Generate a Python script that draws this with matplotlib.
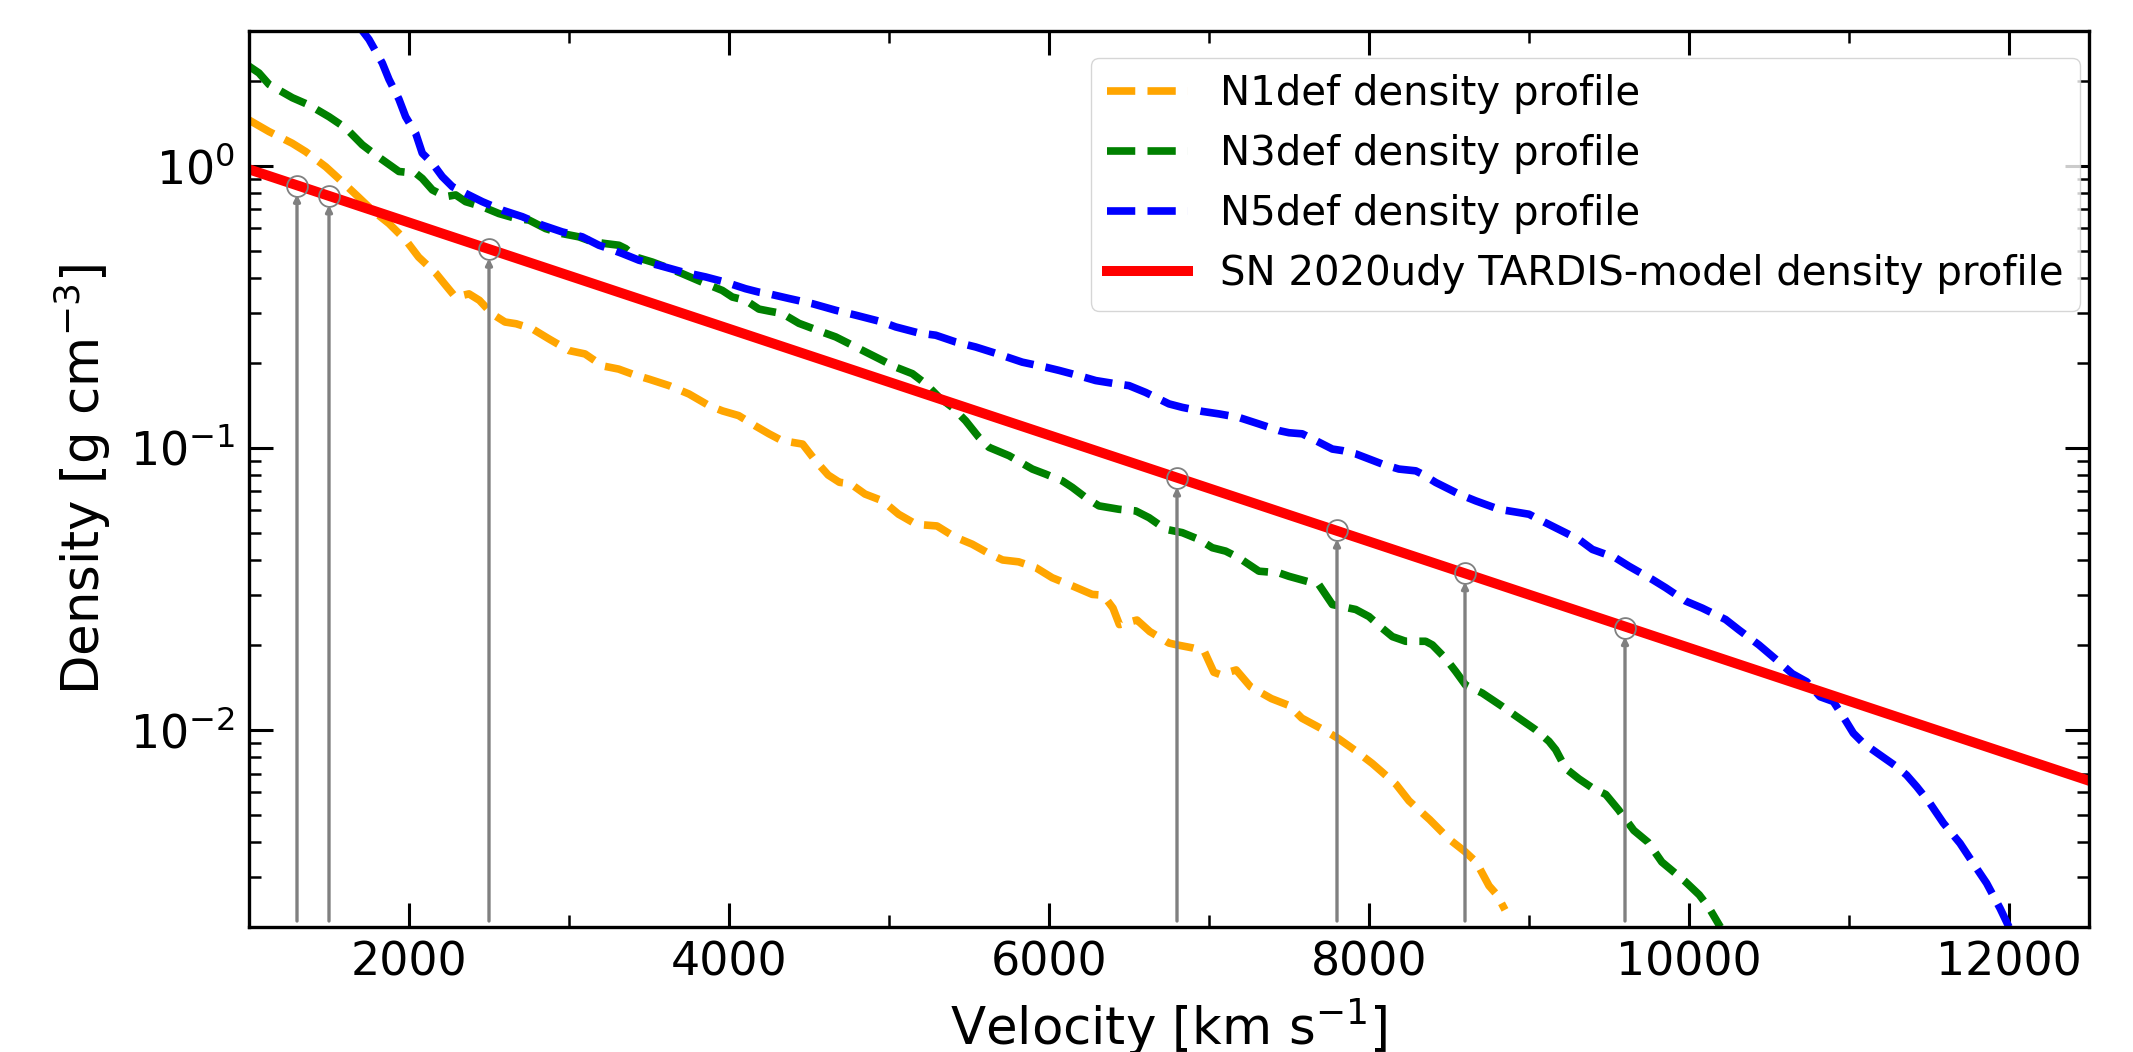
import matplotlib
matplotlib.use("Agg")
import matplotlib.pyplot as plt

# ---------------- data ----------------
n1_v = [1000, 1125, 1270, 1355, 1480, 1560, 1670, 1770, 1875, 1980, 2060, 2170, 2230, 2290,
        2375, 2440, 2520, 2600, 2670, 2770, 2875, 3000, 3100, 3210, 3310, 3400, 3500, 3625,
        3750, 3875, 3960, 4060, 4170, 4250, 4330, 4460, 4540, 4620, 4690, 4760, 4850, 4960,
        5060, 5170, 5300, 5410, 5520, 5630, 5710, 5810, 5920, 6020, 6150, 6270, 6340, 6400,
        6440, 6550, 6630, 6750, 6800, 6900, 6970, 7030, 7070, 7170, 7260, 7390, 7500, 7580,
        7730, 7810, 7920, 8020, 8080, 8170, 8250, 8380, 8500, 8600, 8670, 8750, 8800, 8850]
n1_rho = [1.45, 1.32, 1.20, 1.12, 0.99, 0.90, 0.787, 0.695, 0.623, 0.544, 0.474, 0.414, 0.376,
          0.342, 0.351, 0.333, 0.298, 0.279, 0.275, 0.264, 0.243, 0.221, 0.215, 0.195, 0.190,
          0.182, 0.175, 0.166, 0.155, 0.141, 0.135, 0.130, 0.119, 0.112, 0.106, 0.103, 0.090,
          0.080, 0.0754, 0.0745, 0.0685, 0.0648, 0.0581, 0.0535, 0.0528, 0.0483, 0.0455,
          0.0420, 0.0400, 0.0394, 0.0375, 0.0346, 0.0323, 0.0302, 0.0300, 0.0270, 0.0236,
          0.0245, 0.0223, 0.0203, 0.0200, 0.0195, 0.0190, 0.0160, 0.0157, 0.0163, 0.0142,
          0.0129, 0.0122, 0.0110, 0.0099, 0.0093, 0.0084, 0.0076, 0.0071, 0.0064, 0.0056,
          0.0048, 0.0041, 0.0037, 0.0034, 0.0028, 0.0026, 0.0023]

n3_v = [1000, 1062, 1125, 1271, 1375, 1500, 1604, 1708, 1792, 1896, 1937, 2042, 2083, 2146,
        2229, 2292, 2354, 2458, 2562, 2667, 2750, 2854, 2958, 3062, 3146, 3229, 3312, 3354,
        3417, 3521, 3604, 3708, 3833, 3958, 4021, 4104, 4187, 4250, 4333, 4437, 4583, 4667,
        4792, 4917, 5042, 5146, 5229, 5312, 5396, 5479, 5562, 5625, 5750, 5896, 5979, 6083,
        6146, 6229, 6312, 6437, 6542, 6625, 6729, 6833, 6937, 7021, 7104, 7187, 7312, 7437,
        7500, 7687, 7771, 7917, 8000, 8083, 8146, 8229, 8354, 8396, 8479, 8542, 8604, 8708,
        8833, 8937, 9042, 9125, 9167, 9229, 9312, 9400, 9480, 9560, 9655, 9743, 9830, 9976,
        10064, 10123, 10196]
n3_rho = [2.25, 2.13, 1.94, 1.74, 1.64, 1.49, 1.36, 1.185, 1.09, 0.99, 0.953, 0.94, 0.90,
          0.82, 0.776, 0.787, 0.745, 0.715, 0.676, 0.65, 0.641, 0.598, 0.574, 0.559, 0.537,
          0.529, 0.522, 0.508, 0.474, 0.455, 0.437, 0.414, 0.386, 0.361, 0.342, 0.333, 0.310,
          0.305, 0.299, 0.276, 0.257, 0.247, 0.2275, 0.2096, 0.193, 0.183, 0.1685, 0.151,
          0.139, 0.1246, 0.1088, 0.1003, 0.0937, 0.0840, 0.0806, 0.0763, 0.0723, 0.0666,
          0.0622, 0.0605, 0.0597, 0.0565, 0.0514, 0.0500, 0.0473, 0.0442, 0.0430, 0.0407,
          0.0365, 0.0360, 0.0350, 0.0327, 0.0278, 0.0267, 0.0252, 0.0229, 0.0214, 0.0206,
          0.0206, 0.0200, 0.0179, 0.0161, 0.0144, 0.0135, 0.0121, 0.0110, 0.0100, 0.0091,
          0.0085, 0.0073, 0.0067, 0.0062, 0.0059, 0.0052, 0.0044, 0.0040, 0.0034, 0.0029,
          0.0026, 0.00235, 0.0020]

n5_v = [1687, 1750, 1833, 1875, 1937, 1979, 2042, 2083, 2146, 2208, 2271, 2354, 2458, 2583,
        2708, 2833, 2958, 3083, 3187, 3250, 3333, 3437, 3562, 3708, 3854, 3979, 4104, 4187,
        4250, 4375, 4521, 4667, 4792, 4958, 5042, 5187, 5292, 5417, 5542, 5687, 5833, 5979,
        6062, 6187, 6292, 6417, 6500, 6604, 6750, 6833, 6958, 7062, 7187, 7312, 7437, 7500,
        7583, 7667, 7771, 7833, 7917, 8083, 8187, 8292, 8333, 8417, 8562, 8667, 8812, 8937,
        9000, 9062, 9167, 9312, 9396, 9541, 9625, 9771, 9854, 9979, 10083, 10229, 10312,
        10437, 10542, 10646, 10736, 10819, 10902, 10965, 11027, 11090, 11194, 11298, 11360,
        11423, 11506, 11590, 11694, 11777, 11860, 11944, 12000]
n5_rho = [3.12, 2.80, 2.31, 2.02, 1.72, 1.49, 1.30, 1.106, 1.02, 0.914, 0.842, 0.797, 0.745,
          0.695, 0.659, 0.615, 0.582, 0.559, 0.522, 0.508, 0.488, 0.462, 0.443, 0.420, 0.403,
          0.386, 0.366, 0.356, 0.351, 0.338, 0.324, 0.307, 0.295, 0.279, 0.268, 0.255, 0.2505,
          0.237, 0.2275, 0.2143, 0.201, 0.193, 0.188, 0.180, 0.173, 0.1685, 0.166, 0.157,
          0.143, 0.139, 0.1345, 0.1318, 0.128, 0.1214, 0.115, 0.1130, 0.112, 0.106, 0.0989,
          0.0977, 0.0951, 0.0875, 0.0840, 0.0828, 0.0806, 0.0753, 0.0685, 0.0648, 0.0605,
          0.0589, 0.0581, 0.0557, 0.0520, 0.0473, 0.0436, 0.0407, 0.0380, 0.0341, 0.0319,
          0.0286, 0.0270, 0.0246, 0.0226, 0.0200, 0.0178, 0.0158, 0.0148, 0.0131, 0.0126,
          0.0111, 0.00973, 0.00896, 0.00814, 0.0074, 0.00691, 0.00629, 0.00549, 0.00467,
          0.00396, 0.00336, 0.00286, 0.00233, 0.0020]

tardis_v = [1000, 12500]
tardis_rho = [0.97, 0.0066]

shell_v = [1300, 1500, 2500, 6800, 7800, 8600, 9600]
shell_rho = [0.85, 0.78, 0.505, 0.078, 0.051, 0.036, 0.023]
shell_base = 0.0021

labels = ["N1def density profile", "N3def density profile", "N5def density profile",
          "SN 2020udy TARDIS-model density profile"]

# ---------------- figure ----------------
fig = plt.figure(figsize=(21.33, 10.52), dpi=100)
ax = fig.add_axes([249 / 2133, 1 - 927 / 1052, 1840 / 2133, 896 / 1052])

dash_lw = 5.5
ax.plot(n1_v, n1_rho, ls="--", color="orange", lw=dash_lw, label=labels[0])
ax.plot(n3_v, n3_rho, ls="--", color="green", lw=dash_lw, label=labels[1])
ax.plot(n5_v, n5_rho, ls="--", color="blue", lw=dash_lw, label=labels[2])
ax.plot(tardis_v, tardis_rho, ls="-", color="red", lw=7.2, label=labels[3])

for v, r in zip(shell_v, shell_rho):
    ax.annotate("", xy=(v, r), xytext=(v, shell_base),
                arrowprops=dict(arrowstyle="-|>", color="gray", lw=2.4,
                                shrinkA=0, shrinkB=6.5, mutation_scale=9),
                zorder=5)
ax.plot(shell_v, shell_rho, ls="none", marker="o", ms=15, mfc="none",
        mec="gray", mew=1.3, zorder=6)

ax.set_yscale("log")
ax.set_xlim(1000, 12500)
ax.set_ylim(0.002, 3.0)

ax.set_xticks([2000, 4000, 6000, 8000, 10000, 12000])
ax.set_xticks(range(1000, 12501, 1000), minor=True)

for s in ax.spines.values():
    s.set_linewidth(2.4)
ax.tick_params(which="both", direction="in", top=True, right=True)
ax.tick_params(which="major", length=17, width=2.2, labelsize=33, pad=10)
ax.tick_params(which="minor", length=8.5, width=1.8)

ax.set_xlabel(r"Velocity [km s$^{-1}$]", fontsize=37, labelpad=8)
ax.set_ylabel(r"Density [g cm$^{-3}$]", fontsize=37, labelpad=12)

leg = ax.legend(loc="upper right", bbox_to_anchor=(0.995, 0.970), borderaxespad=0,
                fontsize=29, handlelength=2.0)

fig.savefig("out.png", dpi=100)
